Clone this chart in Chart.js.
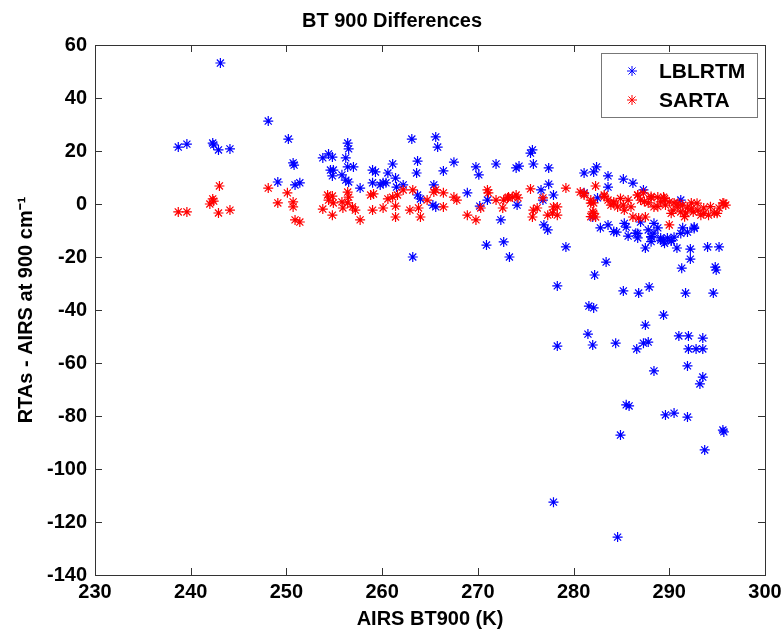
<!DOCTYPE html>
<html>
<head>
<meta charset="utf-8">
<title>BT 900 Differences</title>
<script src="https://cdn.jsdelivr.net/npm/chart.js@4.4.0/dist/chart.umd.min.js"></script>
<style>
  body { margin: 0; background: #fff; }
  #wrap { width: 784px; height: 635px; }
</style>
</head>
<body>
<div id="wrap"><canvas id="myChart" width="784" height="635"></canvas></div>
<script>
'use strict';

//========== Data ==========
let seriesNames = ['LBLRTM', 'SARTA'];
let xTicks = [230, 240, 250, 260, 270, 280, 290, 300];
let yTicks = [-140, -120, -100, -80, -60, -40, -20, 0, 20, 40, 60];

let lblrtmX = [238.7, 239.6, 242.3, 242.4, 242.9, 244.1, 243.1, 248.1, 250.2, 250.7, 250.8, 249.1, 250.9, 251.4,
  253.8, 254.4, 254.8, 256.4, 256.5, 256.2, 254.6, 254.9, 254.8, 255.8, 256.4, 257.0, 256.2, 256.5, 257.7,
  259.0, 259.3, 259.0, 259.8, 260.1, 260.4, 260.6, 261.1, 261.4, 261.5, 262.2, 263.1, 263.7, 263.6, 265.6,
  265.8, 265.4, 266.4, 267.5, 269.8, 270.1, 271.9, 274.0, 274.3, 263.7, 264.0, 265.3, 265.6, 268.9, 271.0,
  270.2, 272.4, 270.9, 272.7, 273.3, 263.2, 275.5, 275.7, 275.8, 277.4, 277.4, 276.6, 277.9, 276.8, 274.1,
  276.9, 277.3, 279.2, 281.1, 282.1, 282.4, 283.6, 285.2, 286.2, 283.6, 281.1, 282.5, 282.0, 282.8, 283.6,
  284.5, 285.5, 285.7, 286.5, 287.0, 287.3, 286.7, 287.8, 288.4, 288.8, 288.1, 289.1, 289.8, 290.5, 289.4,
  290.2, 291.4, 291.9, 292.6, 291.2, 287.5, 290.8, 292.2, 294.0, 295.2, 283.4, 282.2, 278.3, 281.6, 282.1,
  285.2, 286.8, 287.9, 292.2, 291.3, 294.8, 294.9, 291.7, 294.6, 289.4, 287.5, 281.5, 282.0, 278.3, 284.4,
  286.6, 287.3, 287.8, 291.0, 292.0, 293.5, 292.0, 292.8, 293.5, 291.9, 288.4, 293.5, 293.2, 285.5, 285.8,
  289.6, 290.5, 291.9, 295.6, 295.7, 284.9, 293.7, 277.9, 284.6,
  284.2, 285.3, 286.7, 288.1, 289.1, 290.2, 288.4, 292.6, 291.2, 288.1, 289.5];
let lblrtmY = [21.5, 22.6, 23.0, 22.3, 20.4, 20.8, 53.2, 31.3, 24.5, 15.5, 14.7, 8.3, 7.2, 8.0,
  17.4, 18.9, 17.7, 23.0, 20.8, 17.4, 12.8, 12.8, 10.6, 11.0, 14.0, 14.0, 9.0, 8.3, 6.0,
  12.8, 12.1, 8.0, 7.2, 8.0, 8.0, 11.7, 15.1, 9.8, 6.4, 7.2, 24.5, 16.2, 11.7, 25.3,
  21.5, 7.2, 12.5, 15.8, 14.0, 11.0, 15.1, 13.6, 14.3, 3.4, 1.9, -0.4, -1.1, 4.2, 1.5,
  -0.8, -6.0, -15.5, -14.3, -20.0, -20.0, 19.2, 20.4, 15.1, 13.6, 7.5, 5.3, 3.4, 1.5, -0.4,
  -7.9, -9.8, -16.2, 11.7, 12.1, 14.0, 10.6, 9.4, 7.9, 6.4, 4.2, 2.3, -4.9, -9.0, -7.9,
  -10.6, -8.7, -12.1, -11.0, -6.8, 5.3, -12.8, -9.8, -11.0, -9.0, -12.5, -12.8, -12.8, -12.5, -14.0,
  -14.0, -9.0, -10.6, -8.7, 1.5, -16.6, -16.6, -17.0, -16.2, -16.2, -21.9, -26.8, -30.9, -38.5, -39.2,
  -32.8, -33.6, -31.3, -20.8, -24.2, -23.8, -24.9, -33.6, -33.6, -41.9, -45.7, -49.1, -53.2, -53.6, -52.5,
  -54.7, -52.5, -52.1, -49.8, -49.8, -50.6, -54.7, -54.7, -54.7, -61.1, -63.0, -65.3, -67.9, -75.8, -76.2,
  -79.6, -78.9, -80.4, -85.3, -86.0, -87.2, -92.8, -112.5, -125.7,
  -10.4, -7.3, -11.1, -12.3, -13.6, -13.8, -7.3, -9.2, -11.1, -14.2, -14.8];

let sartaX = [238.7, 239.6, 242.3, 242.4, 242.0, 243.0, 242.9, 244.1, 248.1, 249.1, 250.1, 250.7, 250.7, 250.9,
  251.4, 253.8, 254.3, 254.8, 254.4, 254.9, 254.8, 255.8, 255.9, 256.4, 256.5, 256.4, 256.9, 257.2, 257.7,
  258.8, 259.1, 259.0, 260.1, 260.6, 261.1, 261.6, 261.4, 261.4, 262.2, 263.2, 262.9, 263.8, 264.0, 264.7,
  265.4, 265.6, 266.4, 266.4, 267.5, 267.8, 268.9, 269.8, 270.3, 271.0, 271.1, 271.9, 272.6, 273.1, 273.6,
  274.2, 272.7, 273.2, 274.0, 275.5, 275.8, 276.2, 275.7, 276.8, 277.3, 277.8, 278.3, 277.9, 278.3, 279.2,
  280.7, 281.1, 281.8, 282.1, 282.0, 282.3, 282.3, 283.2, 283.6, 283.9, 284.2, 284.6, 285.2, 285.7, 286.0,
  286.2, 286.7, 287.0, 287.3, 287.8, 288.1, 288.4, 288.8, 289.1, 289.4, 289.6, 290.0, 290.4, 290.5, 290.9,
  291.2, 291.4, 291.7, 291.9, 292.3, 292.5, 293.0, 293.3, 293.6, 294.1, 294.7, 295.2, 295.6, 295.9, 290.0,
  287.5, 286.8, 281.1, 281.8, 282.1, 283.2, 284.2, 284.9, 285.3, 286.7, 287.4, 288.1, 288.8, 289.5, 290.2,
  290.9, 291.6, 292.3, 292.9, 293.6, 294.3, 295.0, 295.7, 281.8];
let sartaY = [-3.0, -3.0, 1.9, 1.1, 0.0, 6.8, -3.4, -2.3, 6.0, 0.4, 4.2, 0.8, -1.1, -6.0,
  -6.8, -1.9, 3.4, 3.0, 1.5, 0.4, -4.2, 0.8, -1.5, 4.5, 2.6, 0.4, -1.1, -2.3, -6.0,
  3.4, 3.8, -2.3, -1.5, 1.9, 2.6, 3.4, -0.8, -4.9, 5.3, 5.3, -2.3, -1.5, -4.9, 1.5,
  4.5, 5.3, 4.2, -1.1, 2.6, 1.5, -4.2, -6.0, -1.5, 5.3, 4.2, 1.5, -1.5, 2.3, 2.6,
  2.3, 1.5, 2.6, 3.4, 5.7, -2.3, -1.5, -4.9, 2.3, -4.2, -3.4, -4.2, -1.1, -1.1, 6.0,
  4.5, 3.4, 1.5, 0.4, -3.0, -4.9, 6.8, 3.4, 1.5, -0.4, 0.8, -1.1, -0.4, 1.5, -1.1,
  -4.9, 3.4, 1.5, 4.2, 0.4, 2.3, -1.1, 2.6, 0.8, 2.6, -0.4, 0.8, -2.3, 0.4, -1.1,
  -3.0, -0.4, -3.4, -1.5, 0.4, -3.0, -2.3, -4.2, -1.5, -4.2, -3.4, -1.5, 0.4, -0.4, -7.9,
  -4.9, -5.3, 4.0, 0.3, -3.5, 2.8, 0.3, 2.1, -2.3, 3.4, 0.9, 2.8, -1.0, 2.1, -3.5,
  0.3, -4.8, -1.6, 0.3, -3.5, -1.0, -3.5, 0.3, -4.8];

let seriesColors = ['#0000ff', '#ff0000'];

//========== Helpers ==========
function toPoints(xs, ys) {
  let pts = [];
  for (let i = 0; i < xs.length; i++) {
    pts.push({ x: xs[i], y: ys[i] });
  }
  return pts;
}

let tickFont = { family: 'Liberation Sans, Arial, sans-serif', size: 20, weight: 'bold' };
let axisColor = '#333333';

// inward tick marks and the box round the plot, matlab style
let boxPlugin = {
  id: 'boxTicks',
  afterDraw(chart) {
    let c = chart.ctx;
    let a = chart.chartArea;
    let xs = chart.scales.x;
    let ys = chart.scales.y;
    let len = 7;
    c.save();
    c.strokeStyle = axisColor;
    c.lineWidth = 1;
    c.beginPath();
    xTicks.forEach(v => {
      let px = Math.round(xs.getPixelForValue(v)) + 0.5;
      c.moveTo(px, a.bottom); c.lineTo(px, a.bottom - len);
      c.moveTo(px, a.top); c.lineTo(px, a.top + len);
    });
    yTicks.forEach(v => {
      let py = Math.round(ys.getPixelForValue(v)) + 0.5;
      c.moveTo(a.left, py); c.lineTo(a.left + len, py);
      c.moveTo(a.right, py); c.lineTo(a.right - len, py);
    });
    c.stroke();
    c.strokeRect(Math.round(a.left) + 0.5, Math.round(a.top) + 0.5,
      Math.round(a.right - a.left), Math.round(a.bottom - a.top));
    c.restore();
  }
};

// legend box in the top right corner
let legendPlugin = {
  id: 'boxLegend',
  afterDraw(chart) {
    let c = chart.ctx;
    let a = chart.chartArea;
    let w = 156, h = 64;
    let left = a.right - 8 - w;
    let top = a.top + 8;
    c.save();
    c.fillStyle = '#ffffff';
    c.fillRect(left, top, w, h);
    c.strokeStyle = '#777777';
    c.lineWidth = 1;
    c.strokeRect(Math.round(left) + 0.5, Math.round(top) + 0.5, w, h);
    c.font = 'bold 21px Liberation Sans, Arial, sans-serif';
    c.textBaseline = 'middle';
    c.textAlign = 'left';
    chart.data.datasets.forEach((ds, i) => {
      let y = top + 18 + i * 29;
      c.strokeStyle = ds.borderColor;
      c.lineWidth = 1;
      Chart.helpers.drawPoint(c, { pointStyle: 'star', radius: 5, rotation: 0, borderWidth: 1 }, left + 31, y);
      c.fillStyle = '#000000';
      c.fillText(ds.label, left + 58, y + 1);
    });
    c.restore();
  }
};

//========== Chart ==========
let ctx = document.getElementById('myChart').getContext('2d');

let myChart = new Chart(ctx, {
  type: 'scatter',
  data: {
    datasets: [{
      label: seriesNames[0],
      data: toPoints(lblrtmX, lblrtmY),
      borderColor: seriesColors[0],
      backgroundColor: seriesColors[0],
      pointStyle: 'star',
      pointRadius: 5,
      borderWidth: 1.2,
      order: 2
    },
    {
      label: seriesNames[1],
      data: toPoints(sartaX, sartaY),
      borderColor: seriesColors[1],
      backgroundColor: seriesColors[1],
      pointStyle: 'star',
      pointRadius: 5,
      borderWidth: 1.2,
      order: 1
    }]
  },
  options: {
    responsive: false,
    animation: false,
    devicePixelRatio: 1,
    layout: { padding: { left: 0, right: 0, top: 0, bottom: 0 } },
    plugins: {
      legend: { display: false },
      tooltip: { enabled: false },
      title: {
        display: true,
        text: 'BT 900 Differences',
        color: '#000000',
        font: { family: 'Liberation Sans, Arial, sans-serif', size: 20, weight: 'bold' },
        padding: { top: 9, bottom: 12 }
      }
    },
    scales: {
      x: {
        type: 'linear',
        min: 230,
        max: 300,
        afterFit(scale) {
          scale.height = 60;
          scale.paddingRight = 19;
        },
        afterBuildTicks(scale) { scale.ticks = xTicks.map(v => ({ value: v })); },
        grid: { display: false, drawTicks: false },
        border: { display: false },
        ticks: { color: '#000000', font: tickFont, padding: 5, maxRotation: 0 },
        title: {
          display: true,
          text: 'AIRS BT900 (K)',
          color: '#000000',
          font: tickFont,
          padding: { top: 4, bottom: 4 }
        }
      },
      y: {
        type: 'linear',
        min: -140,
        max: 60,
        afterFit(scale) { scale.width = 95; },
        afterBuildTicks(scale) { scale.ticks = yTicks.map(v => ({ value: v })); },
        grid: { display: false, drawTicks: false },
        border: { display: false },
        ticks: { color: '#000000', font: tickFont, padding: 8 },
        title: {
          display: true,
          text: 'RTAs - AIRS at 900 cm⁻¹',
          color: '#000000',
          font: tickFont,
          padding: { top: 14, bottom: 14 }
        }
      }
    }
  },
  plugins: [boxPlugin, legendPlugin]
});
</script>
</body>
</html>
